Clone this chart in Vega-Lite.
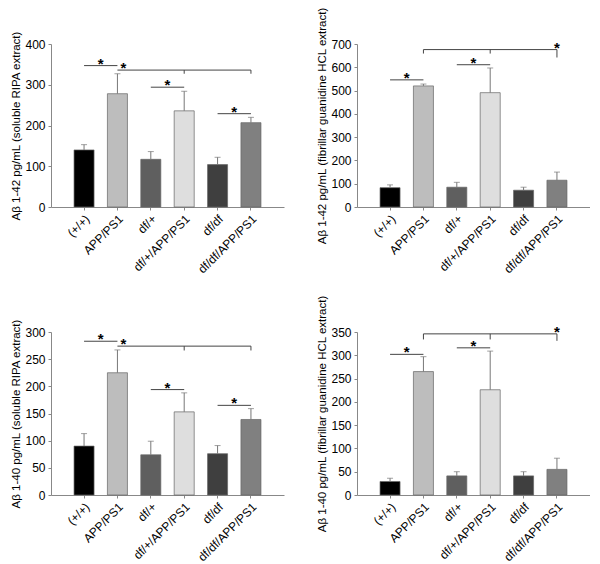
{
  "$schema": "https://vega.github.io/schema/vega-lite/v6.json",
  "padding": {"left": 10, "top": 6, "right": 0, "bottom": 0},
  "background": "white",
  "config": {
    "font": "Liberation Sans",
    "view": {"stroke": null},
    "axis": {"grid": false, "domainColor": "#888", "tickColor": "#888", "tickSize": 3, "labelFontSize": 12, "labelColor": "#000", "titleFontSize": 11.5, "titleFontWeight": "normal", "titleColor": "#000", "labelOverlap": false},
    "axisX": {"labelAngle": -45, "labelAlign": "right", "labelBaseline": "top", "labelPadding": 3, "title": null},
    "axisY": {"titlePadding": 3, "labelPadding": 3}
  },
  "datasets": {
    "all": [
      {"panel": "A", "kind": "bar", "group": "(+/+)", "mean": 140, "err": 153},
      {"panel": "A", "kind": "bar", "group": "APP/PS1", "mean": 278, "err": 327},
      {"panel": "A", "kind": "bar", "group": "df/+", "mean": 117, "err": 136},
      {"panel": "A", "kind": "bar", "group": "df/+/APP/PS1", "mean": 236, "err": 284},
      {"panel": "A", "kind": "bar", "group": "df/df", "mean": 104, "err": 122},
      {"panel": "A", "kind": "bar", "group": "df/df/APP/PS1", "mean": 207, "err": 220},
      {"panel": "A", "kind": "hline", "group": "(+/+)", "group2": "APP/PS1", "y": 347},
      {"panel": "A", "kind": "hline", "group": "APP/PS1", "group2": "df/df/APP/PS1", "y": 336},
      {"panel": "A", "kind": "hline", "group": "df/+", "group2": "df/+/APP/PS1", "y": 294},
      {"panel": "A", "kind": "hline", "group": "df/df", "group2": "df/df/APP/PS1", "y": 229},
      {"panel": "A", "kind": "drop", "group": "df/+/APP/PS1", "y": 336, "y2": 327},
      {"panel": "A", "kind": "drop", "group": "df/df/APP/PS1", "y": 336, "y2": 327},
      {"panel": "A", "kind": "star", "place": "mid", "group": "(+/+)", "y": 347},
      {"panel": "A", "kind": "star", "place": "right", "group": "APP/PS1", "y": 336},
      {"panel": "A", "kind": "star", "place": "mid", "group": "df/+", "y": 294},
      {"panel": "A", "kind": "star", "place": "mid", "group": "df/df", "y": 229},

      {"panel": "B", "kind": "bar", "group": "(+/+)", "mean": 83, "err": 95},
      {"panel": "B", "kind": "bar", "group": "APP/PS1", "mean": 520, "err": 528},
      {"panel": "B", "kind": "bar", "group": "df/+", "mean": 85, "err": 106},
      {"panel": "B", "kind": "bar", "group": "df/+/APP/PS1", "mean": 491, "err": 597},
      {"panel": "B", "kind": "bar", "group": "df/df", "mean": 72, "err": 85},
      {"panel": "B", "kind": "bar", "group": "df/df/APP/PS1", "mean": 115, "err": 150},
      {"panel": "B", "kind": "hline", "group": "(+/+)", "group2": "APP/PS1", "y": 546},
      {"panel": "B", "kind": "hline", "group": "APP/PS1", "group2": "df/df/APP/PS1", "y": 676},
      {"panel": "B", "kind": "hline", "group": "df/+", "group2": "df/+/APP/PS1", "y": 611},
      {"panel": "B", "kind": "drop", "group": "APP/PS1", "y": 676, "y2": 659},
      {"panel": "B", "kind": "drop", "group": "df/+/APP/PS1", "y": 676, "y2": 659},
      {"panel": "B", "kind": "drop", "group": "df/df/APP/PS1", "y": 676, "y2": 642},
      {"panel": "B", "kind": "star", "place": "mid", "group": "(+/+)", "y": 546},
      {"panel": "B", "kind": "star", "place": "mid", "group": "df/+", "y": 611},
      {"panel": "B", "kind": "star", "place": "center", "group": "df/df/APP/PS1", "y": 676},

      {"panel": "C", "kind": "bar", "group": "(+/+)", "mean": 90, "err": 113},
      {"panel": "C", "kind": "bar", "group": "APP/PS1", "mean": 225, "err": 267},
      {"panel": "C", "kind": "bar", "group": "df/+", "mean": 74, "err": 99},
      {"panel": "C", "kind": "bar", "group": "df/+/APP/PS1", "mean": 153, "err": 188},
      {"panel": "C", "kind": "bar", "group": "df/df", "mean": 76, "err": 91},
      {"panel": "C", "kind": "bar", "group": "df/df/APP/PS1", "mean": 139, "err": 159},
      {"panel": "C", "kind": "hline", "group": "(+/+)", "group2": "APP/PS1", "y": 283},
      {"panel": "C", "kind": "hline", "group": "APP/PS1", "group2": "df/df/APP/PS1", "y": 274},
      {"panel": "C", "kind": "hline", "group": "df/+", "group2": "df/+/APP/PS1", "y": 194},
      {"panel": "C", "kind": "hline", "group": "df/df", "group2": "df/df/APP/PS1", "y": 165},
      {"panel": "C", "kind": "drop", "group": "df/+/APP/PS1", "y": 274, "y2": 266},
      {"panel": "C", "kind": "drop", "group": "df/df/APP/PS1", "y": 274, "y2": 266},
      {"panel": "C", "kind": "star", "place": "mid", "group": "(+/+)", "y": 283},
      {"panel": "C", "kind": "star", "place": "right", "group": "APP/PS1", "y": 274},
      {"panel": "C", "kind": "star", "place": "mid", "group": "df/+", "y": 194},
      {"panel": "C", "kind": "star", "place": "mid", "group": "df/df", "y": 165},

      {"panel": "D", "kind": "bar", "group": "(+/+)", "mean": 29, "err": 36},
      {"panel": "D", "kind": "bar", "group": "APP/PS1", "mean": 265, "err": 297},
      {"panel": "D", "kind": "bar", "group": "df/+", "mean": 41, "err": 50},
      {"panel": "D", "kind": "bar", "group": "df/+/APP/PS1", "mean": 226, "err": 309},
      {"panel": "D", "kind": "bar", "group": "df/df", "mean": 41, "err": 50},
      {"panel": "D", "kind": "bar", "group": "df/df/APP/PS1", "mean": 55, "err": 79},
      {"panel": "D", "kind": "hline", "group": "(+/+)", "group2": "APP/PS1", "y": 302},
      {"panel": "D", "kind": "hline", "group": "APP/PS1", "group2": "df/df/APP/PS1", "y": 346},
      {"panel": "D", "kind": "hline", "group": "df/+", "group2": "df/+/APP/PS1", "y": 316},
      {"panel": "D", "kind": "drop", "group": "APP/PS1", "y": 346, "y2": 334},
      {"panel": "D", "kind": "drop", "group": "df/+/APP/PS1", "y": 346, "y2": 334},
      {"panel": "D", "kind": "drop", "group": "df/df/APP/PS1", "y": 346, "y2": 331},
      {"panel": "D", "kind": "star", "place": "mid", "group": "(+/+)", "y": 302},
      {"panel": "D", "kind": "star", "place": "mid", "group": "df/+", "y": 316},
      {"panel": "D", "kind": "star", "place": "center", "group": "df/df/APP/PS1", "y": 346}
    ]
  },
  "columns": 2,
  "spacing": {"row": 18, "column": 32},
  "concat": [
    {
      "width": 233, "height": 163,
      "data": {"name": "all"},
      "transform": [{"filter": "datum.panel === 'A'"}],
      "layer": [
        {"transform": [{"filter": "datum.kind === 'bar'"}], "mark": {"type": "bar", "stroke": "#666", "strokeWidth": 0.7},
         "encoding": {
           "x": {"field": "group", "type": "nominal", "sort": null, "scale": {"domain": ["(+/+)", "APP/PS1", "df/+", "df/+/APP/PS1", "df/df", "df/df/APP/PS1"], "paddingInner": 0.4, "paddingOuter": 0.69}},
           "y": {"field": "mean", "type": "quantitative", "scale": {"domain": [0, 400], "nice": false}, "axis": {"values": [0, 100, 200, 300, 400]}, "title": "Aβ 1-42 pg/mL (soluble RIPA extract)"},
           "color": {"field": "group", "type": "nominal", "legend": null, "scale": {"domain": ["(+/+)", "APP/PS1", "df/+", "df/+/APP/PS1", "df/df", "df/df/APP/PS1"], "range": ["#000000", "#bdbdbd", "#5f5f5f", "#dedede", "#3f3f3f", "#808080"]}}
         }},
        {"transform": [{"filter": "datum.kind === 'bar'"}], "mark": {"type": "rule", "color": "#777"},
         "encoding": {"x": {"field": "group", "type": "nominal"}, "y": {"field": "mean", "type": "quantitative", "axis": {"values": [0, 100, 200, 300, 400]}, "title": "Aβ 1-42 pg/mL (soluble RIPA extract)"}, "y2": {"field": "err"}}},
        {"transform": [{"filter": "datum.kind === 'bar'"}], "mark": {"type": "tick", "color": "#777", "size": 6, "thickness": 1, "orient": "horizontal"},
         "encoding": {"x": {"field": "group", "type": "nominal"}, "y": {"field": "err", "type": "quantitative", "axis": {"values": [0, 100, 200, 300, 400]}, "title": "Aβ 1-42 pg/mL (soluble RIPA extract)"}}},
        {"transform": [{"filter": "datum.kind === 'hline'"}], "mark": {"type": "rule", "color": "#444"},
         "encoding": {"x": {"field": "group", "type": "nominal"}, "x2": {"field": "group2"}, "y": {"field": "y", "type": "quantitative", "axis": {"values": [0, 100, 200, 300, 400]}, "title": "Aβ 1-42 pg/mL (soluble RIPA extract)"}}},
        {"transform": [{"filter": "datum.kind === 'drop'"}], "mark": {"type": "rule", "color": "#444"},
         "encoding": {"x": {"field": "group", "type": "nominal"}, "y": {"field": "y", "type": "quantitative", "axis": {"values": [0, 100, 200, 300, 400]}, "title": "Aβ 1-42 pg/mL (soluble RIPA extract)"}, "y2": {"field": "y2"}}},
        {"transform": [{"filter": "datum.kind === 'star' && datum.place === 'mid'"}], "mark": {"type": "text", "text": "*", "fontSize": 15, "fontWeight": "bold", "baseline": "alphabetic", "dy": 3, "dx": 16.7},
         "encoding": {"x": {"field": "group", "type": "nominal"}, "y": {"field": "y", "type": "quantitative", "axis": {"values": [0, 100, 200, 300, 400]}, "title": "Aβ 1-42 pg/mL (soluble RIPA extract)"}}},
        {"transform": [{"filter": "datum.kind === 'star' && datum.place === 'right'"}], "mark": {"type": "text", "text": "*", "fontSize": 15, "fontWeight": "bold", "baseline": "alphabetic", "dy": 3, "dx": 6},
         "encoding": {"x": {"field": "group", "type": "nominal"}, "y": {"field": "y", "type": "quantitative", "axis": {"values": [0, 100, 200, 300, 400]}, "title": "Aβ 1-42 pg/mL (soluble RIPA extract)"}}}
      ]
    },
    {
      "width": 233, "height": 163,
      "data": {"name": "all"},
      "transform": [{"filter": "datum.panel === 'B'"}],
      "layer": [
        {"transform": [{"filter": "datum.kind === 'bar'"}], "mark": {"type": "bar", "stroke": "#666", "strokeWidth": 0.7},
         "encoding": {
           "x": {"field": "group", "type": "nominal", "sort": null, "scale": {"domain": ["(+/+)", "APP/PS1", "df/+", "df/+/APP/PS1", "df/df", "df/df/APP/PS1"], "paddingInner": 0.4, "paddingOuter": 0.69}},
           "y": {"field": "mean", "type": "quantitative", "scale": {"domain": [0, 700], "nice": false}, "axis": {"values": [0, 100, 200, 300, 400, 500, 600, 700]}, "title": "Aβ 1-42 pg/mL (fibrillar guanidine HCL extract)"},
           "color": {"field": "group", "type": "nominal", "legend": null, "scale": {"domain": ["(+/+)", "APP/PS1", "df/+", "df/+/APP/PS1", "df/df", "df/df/APP/PS1"], "range": ["#000000", "#bdbdbd", "#5f5f5f", "#dedede", "#3f3f3f", "#808080"]}}
         }},
        {"transform": [{"filter": "datum.kind === 'bar'"}], "mark": {"type": "rule", "color": "#777"},
         "encoding": {"x": {"field": "group", "type": "nominal"}, "y": {"field": "mean", "type": "quantitative", "axis": {"values": [0, 100, 200, 300, 400, 500, 600, 700]}, "title": "Aβ 1-42 pg/mL (fibrillar guanidine HCL extract)"}, "y2": {"field": "err"}}},
        {"transform": [{"filter": "datum.kind === 'bar'"}], "mark": {"type": "tick", "color": "#777", "size": 6, "thickness": 1, "orient": "horizontal"},
         "encoding": {"x": {"field": "group", "type": "nominal"}, "y": {"field": "err", "type": "quantitative", "axis": {"values": [0, 100, 200, 300, 400, 500, 600, 700]}, "title": "Aβ 1-42 pg/mL (fibrillar guanidine HCL extract)"}}},
        {"transform": [{"filter": "datum.kind === 'hline'"}], "mark": {"type": "rule", "color": "#444"},
         "encoding": {"x": {"field": "group", "type": "nominal"}, "x2": {"field": "group2"}, "y": {"field": "y", "type": "quantitative", "axis": {"values": [0, 100, 200, 300, 400, 500, 600, 700]}, "title": "Aβ 1-42 pg/mL (fibrillar guanidine HCL extract)"}}},
        {"transform": [{"filter": "datum.kind === 'drop'"}], "mark": {"type": "rule", "color": "#444"},
         "encoding": {"x": {"field": "group", "type": "nominal"}, "y": {"field": "y", "type": "quantitative", "axis": {"values": [0, 100, 200, 300, 400, 500, 600, 700]}, "title": "Aβ 1-42 pg/mL (fibrillar guanidine HCL extract)"}, "y2": {"field": "y2"}}},
        {"transform": [{"filter": "datum.kind === 'star' && datum.place === 'mid'"}], "mark": {"type": "text", "text": "*", "fontSize": 15, "fontWeight": "bold", "baseline": "alphabetic", "dy": 3, "dx": 16.7},
         "encoding": {"x": {"field": "group", "type": "nominal"}, "y": {"field": "y", "type": "quantitative", "axis": {"values": [0, 100, 200, 300, 400, 500, 600, 700]}, "title": "Aβ 1-42 pg/mL (fibrillar guanidine HCL extract)"}}},
        {"transform": [{"filter": "datum.kind === 'star' && datum.place === 'center'"}], "mark": {"type": "text", "text": "*", "fontSize": 15, "fontWeight": "bold", "baseline": "alphabetic", "dy": 3, "dx": 0},
         "encoding": {"x": {"field": "group", "type": "nominal"}, "y": {"field": "y", "type": "quantitative", "axis": {"values": [0, 100, 200, 300, 400, 500, 600, 700]}, "title": "Aβ 1-42 pg/mL (fibrillar guanidine HCL extract)"}}}
      ]
    },
    {
      "width": 233, "height": 163,
      "data": {"name": "all"},
      "transform": [{"filter": "datum.panel === 'C'"}],
      "layer": [
        {"transform": [{"filter": "datum.kind === 'bar'"}], "mark": {"type": "bar", "stroke": "#666", "strokeWidth": 0.7},
         "encoding": {
           "x": {"field": "group", "type": "nominal", "sort": null, "scale": {"domain": ["(+/+)", "APP/PS1", "df/+", "df/+/APP/PS1", "df/df", "df/df/APP/PS1"], "paddingInner": 0.4, "paddingOuter": 0.69}},
           "y": {"field": "mean", "type": "quantitative", "scale": {"domain": [0, 300], "nice": false}, "axis": {"values": [0, 50, 100, 150, 200, 250, 300]}, "title": "Aβ 1-40 pg/mL (soluble RIPA extract)"},
           "color": {"field": "group", "type": "nominal", "legend": null, "scale": {"domain": ["(+/+)", "APP/PS1", "df/+", "df/+/APP/PS1", "df/df", "df/df/APP/PS1"], "range": ["#000000", "#bdbdbd", "#5f5f5f", "#dedede", "#3f3f3f", "#808080"]}}
         }},
        {"transform": [{"filter": "datum.kind === 'bar'"}], "mark": {"type": "rule", "color": "#777"},
         "encoding": {"x": {"field": "group", "type": "nominal"}, "y": {"field": "mean", "type": "quantitative", "axis": {"values": [0, 50, 100, 150, 200, 250, 300]}, "title": "Aβ 1-40 pg/mL (soluble RIPA extract)"}, "y2": {"field": "err"}}},
        {"transform": [{"filter": "datum.kind === 'bar'"}], "mark": {"type": "tick", "color": "#777", "size": 6, "thickness": 1, "orient": "horizontal"},
         "encoding": {"x": {"field": "group", "type": "nominal"}, "y": {"field": "err", "type": "quantitative", "axis": {"values": [0, 50, 100, 150, 200, 250, 300]}, "title": "Aβ 1-40 pg/mL (soluble RIPA extract)"}}},
        {"transform": [{"filter": "datum.kind === 'hline'"}], "mark": {"type": "rule", "color": "#444"},
         "encoding": {"x": {"field": "group", "type": "nominal"}, "x2": {"field": "group2"}, "y": {"field": "y", "type": "quantitative", "axis": {"values": [0, 50, 100, 150, 200, 250, 300]}, "title": "Aβ 1-40 pg/mL (soluble RIPA extract)"}}},
        {"transform": [{"filter": "datum.kind === 'drop'"}], "mark": {"type": "rule", "color": "#444"},
         "encoding": {"x": {"field": "group", "type": "nominal"}, "y": {"field": "y", "type": "quantitative", "axis": {"values": [0, 50, 100, 150, 200, 250, 300]}, "title": "Aβ 1-40 pg/mL (soluble RIPA extract)"}, "y2": {"field": "y2"}}},
        {"transform": [{"filter": "datum.kind === 'star' && datum.place === 'mid'"}], "mark": {"type": "text", "text": "*", "fontSize": 15, "fontWeight": "bold", "baseline": "alphabetic", "dy": 3, "dx": 16.7},
         "encoding": {"x": {"field": "group", "type": "nominal"}, "y": {"field": "y", "type": "quantitative", "axis": {"values": [0, 50, 100, 150, 200, 250, 300]}, "title": "Aβ 1-40 pg/mL (soluble RIPA extract)"}}},
        {"transform": [{"filter": "datum.kind === 'star' && datum.place === 'right'"}], "mark": {"type": "text", "text": "*", "fontSize": 15, "fontWeight": "bold", "baseline": "alphabetic", "dy": 3, "dx": 6},
         "encoding": {"x": {"field": "group", "type": "nominal"}, "y": {"field": "y", "type": "quantitative", "axis": {"values": [0, 50, 100, 150, 200, 250, 300]}, "title": "Aβ 1-40 pg/mL (soluble RIPA extract)"}}}
      ]
    },
    {
      "width": 233, "height": 163,
      "data": {"name": "all"},
      "transform": [{"filter": "datum.panel === 'D'"}],
      "layer": [
        {"transform": [{"filter": "datum.kind === 'bar'"}], "mark": {"type": "bar", "stroke": "#666", "strokeWidth": 0.7},
         "encoding": {
           "x": {"field": "group", "type": "nominal", "sort": null, "scale": {"domain": ["(+/+)", "APP/PS1", "df/+", "df/+/APP/PS1", "df/df", "df/df/APP/PS1"], "paddingInner": 0.4, "paddingOuter": 0.69}},
           "y": {"field": "mean", "type": "quantitative", "scale": {"domain": [0, 350], "nice": false}, "axis": {"values": [0, 50, 100, 150, 200, 250, 300, 350]}, "title": "Aβ 1-40 pg/mL (fibrillar guanidine HCL extract)"},
           "color": {"field": "group", "type": "nominal", "legend": null, "scale": {"domain": ["(+/+)", "APP/PS1", "df/+", "df/+/APP/PS1", "df/df", "df/df/APP/PS1"], "range": ["#000000", "#bdbdbd", "#5f5f5f", "#dedede", "#3f3f3f", "#808080"]}}
         }},
        {"transform": [{"filter": "datum.kind === 'bar'"}], "mark": {"type": "rule", "color": "#777"},
         "encoding": {"x": {"field": "group", "type": "nominal"}, "y": {"field": "mean", "type": "quantitative", "axis": {"values": [0, 50, 100, 150, 200, 250, 300, 350]}, "title": "Aβ 1-40 pg/mL (fibrillar guanidine HCL extract)"}, "y2": {"field": "err"}}},
        {"transform": [{"filter": "datum.kind === 'bar'"}], "mark": {"type": "tick", "color": "#777", "size": 6, "thickness": 1, "orient": "horizontal"},
         "encoding": {"x": {"field": "group", "type": "nominal"}, "y": {"field": "err", "type": "quantitative", "axis": {"values": [0, 50, 100, 150, 200, 250, 300, 350]}, "title": "Aβ 1-40 pg/mL (fibrillar guanidine HCL extract)"}}},
        {"transform": [{"filter": "datum.kind === 'hline'"}], "mark": {"type": "rule", "color": "#444"},
         "encoding": {"x": {"field": "group", "type": "nominal"}, "x2": {"field": "group2"}, "y": {"field": "y", "type": "quantitative", "axis": {"values": [0, 50, 100, 150, 200, 250, 300, 350]}, "title": "Aβ 1-40 pg/mL (fibrillar guanidine HCL extract)"}}},
        {"transform": [{"filter": "datum.kind === 'drop'"}], "mark": {"type": "rule", "color": "#444"},
         "encoding": {"x": {"field": "group", "type": "nominal"}, "y": {"field": "y", "type": "quantitative", "axis": {"values": [0, 50, 100, 150, 200, 250, 300, 350]}, "title": "Aβ 1-40 pg/mL (fibrillar guanidine HCL extract)"}, "y2": {"field": "y2"}}},
        {"transform": [{"filter": "datum.kind === 'star' && datum.place === 'mid'"}], "mark": {"type": "text", "text": "*", "fontSize": 15, "fontWeight": "bold", "baseline": "alphabetic", "dy": 3, "dx": 16.7},
         "encoding": {"x": {"field": "group", "type": "nominal"}, "y": {"field": "y", "type": "quantitative", "axis": {"values": [0, 50, 100, 150, 200, 250, 300, 350]}, "title": "Aβ 1-40 pg/mL (fibrillar guanidine HCL extract)"}}},
        {"transform": [{"filter": "datum.kind === 'star' && datum.place === 'center'"}], "mark": {"type": "text", "text": "*", "fontSize": 15, "fontWeight": "bold", "baseline": "alphabetic", "dy": 3, "dx": 0},
         "encoding": {"x": {"field": "group", "type": "nominal"}, "y": {"field": "y", "type": "quantitative", "axis": {"values": [0, 50, 100, 150, 200, 250, 300, 350]}, "title": "Aβ 1-40 pg/mL (fibrillar guanidine HCL extract)"}}}
      ]
    }
  ]
}
